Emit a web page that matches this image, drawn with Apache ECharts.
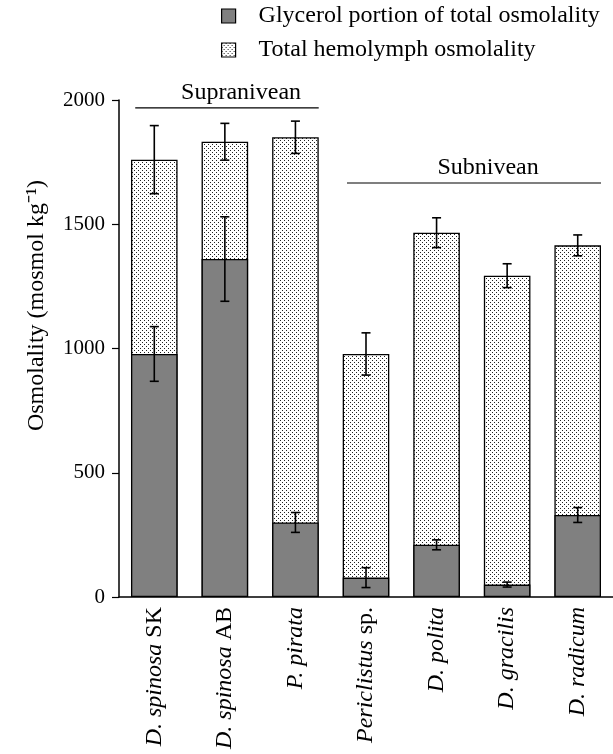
<!DOCTYPE html>
<html>
<head>
<meta charset="utf-8">
<script src="https://cdn.jsdelivr.net/npm/echarts@6/dist/echarts.min.js"></script>
<style>html,body{margin:0;padding:0;background:#fff;}#c{width:613px;height:754px;}</style>
</head>
<body>
<div id="c"></div>
<script>
const categories = ['D. spinosa SK','D. spinosa AB','P. pirata','Periclistus sp.','D. polita','D. gracilis','D. radicum'];
const italicPart = ['D. spinosa','D. spinosa','P. pirata','Periclistus','D. polita','D. gracilis','D. radicum'];
const plainPart = [' SK',' AB','',' sp.','','',''];
const totalOsm = [1760, 1832, 1850, 978, 1466, 1293, 1415];
const totalErr = [137, 74, 65, 85, 60, 48, 42];
const glycerol = [978, 1360, 300, 78, 210, 50, 330];
const glycerolErr = [110, 170, 40, 40, 20, 10, 30];
const yTicks = [0, 500, 1000, 1500, 2000];
const groupNames = ['Supranivean', 'Subnivean'];
const groupSpans = [[0, 2, 1968], [3, 6, 1666]];

const FONT = '"Liberation Serif", "Times New Roman", serif';
const FS = 24;

// dotted pattern
const pc = document.createElement('canvas');
pc.width = 4; pc.height = 4;
const pctx = pc.getContext('2d');
pctx.fillStyle = '#ffffff'; pctx.fillRect(0,0,4,4);
pctx.fillStyle = '#222222';
pctx.fillRect(0,0,1,1);
pctx.fillRect(2,2,1,1);
const dotPattern = {image: pc, repeat: 'repeat'};

const chart = echarts.init(document.getElementById('c'), null, {renderer: 'canvas'});

function errData(vals, errs) {
  return vals.map((v, i) => [i, v - errs[i], v + errs[i]]);
}
function errRender(params, api) {
  const x = api.coord([api.value(0), 0])[0];
  const lo = api.coord([api.value(0), api.value(1)])[1];
  const hi = api.coord([api.value(0), api.value(2)])[1];
  const cap = 4.5;
  const st = {stroke: '#000', lineWidth: 1.6};
  return {type: 'group', children: [
    {type: 'line', shape: {x1: x, y1: lo, x2: x, y2: hi}, style: st},
    {type: 'line', shape: {x1: x - cap, y1: hi, x2: x + cap, y2: hi}, style: st},
    {type: 'line', shape: {x1: x - cap, y1: lo, x2: x + cap, y2: lo}, style: st}
  ]};
}
function groupRender(params, api) {
  const a = api.coord([api.value(0), api.value(2)]);
  const b = api.coord([api.value(1), api.value(2)]);
  const bw = api.size([1, 0])[0];
  const x1 = a[0] - bw * 0.27, x2 = b[0] + bw * 0.33;
  return {type: 'group', children: [
    {type: 'line', shape: {x1: x1, y1: a[1], x2: x2, y2: a[1]}, style: {stroke: '#000', lineWidth: 1.2}},
    {type: 'text', x: (x1 + x2) / 2 + bw * 0.2, y: a[1] - 3, style: {text: groupNames[params.dataIndex], font: FS + 'px ' + FONT, fill: '#000', align: 'center', verticalAlign: 'bottom'}}
  ]};
}

chart.setOption({
  animation: false,
  backgroundColor: '#fff',
  grid: {left: 119, top: 100, bottom: 157, width: 497},
  legend: {
    orient: 'vertical', left: 221, top: 4, itemGap: 10, padding: 0,
    itemWidth: 14, itemHeight: 14,
    data: [
      {name: 'Glycerol portion of total osmolality', icon: 'rect'},
      {name: 'Total hemolymph osmolality', icon: 'rect'}
    ],
    textStyle: {fontFamily: FONT, fontSize: FS, color: '#000', padding: [0, 0, 0, 18]},
    itemStyle: {borderColor: '#000', borderWidth: 1.2}
  },
  xAxis: {
    type: 'category', data: categories,
    axisLine: {lineStyle: {color: '#000', width: 1.5}},
    axisTick: {alignWithLabel: true, length: 6, lineStyle: {color: '#000', width: 1.2}},
    axisLabel: {
      rotate: 90, margin: 10, interval: 0,
      formatter: (v, i) => '{i|' + italicPart[i] + '}' + (plainPart[i] ? '{n|' + plainPart[i] + '}' : ''),
      rich: {
        i: {fontFamily: FONT, fontSize: FS, fontStyle: 'italic', color: '#000'},
        n: {fontFamily: FONT, fontSize: FS, color: '#000'}
      }
    }
  },
  yAxis: {
    type: 'value', min: 0, max: 2000, interval: 500,
    name: 'Osmolality (mosmol kg\u207B\u00B9)', nameLocation: 'middle', nameGap: 70,
    nameTextStyle: {fontFamily: FONT, fontSize: FS, color: '#000', padding: [0, 0, 0, 86]},
    axisLine: {show: true, lineStyle: {color: '#000', width: 1.5}},
    axisTick: {show: true, length: 7, lineStyle: {color: '#000', width: 1.2}},
    axisLabel: {fontFamily: FONT, fontSize: 21, color: '#000', margin: 14,
      formatter: v => yTicks.indexOf(v) >= 0 ? String(v) : ''},
    splitLine: {show: false}
  },
  series: [
    {name: 'Total hemolymph osmolality', type: 'bar', data: totalOsm, barWidth: '66%', barGap: '-100%',
      itemStyle: {color: dotPattern, borderColor: '#000', borderWidth: 1.3}, z: 2},
    {name: 'Glycerol portion of total osmolality', type: 'bar', data: glycerol, barWidth: '66%',
      itemStyle: {color: '#808080', borderColor: '#000', borderWidth: 1.3}, z: 3},
    {type: 'custom', renderItem: errRender, data: errData(totalOsm, totalErr), z: 5, clip: false},
    {type: 'custom', renderItem: errRender, data: errData(glycerol, glycerolErr), z: 5, clip: false},
    {type: 'custom', renderItem: groupRender, data: groupSpans, z: 5, clip: false}
  ]
});
</script>
</body>
</html>
